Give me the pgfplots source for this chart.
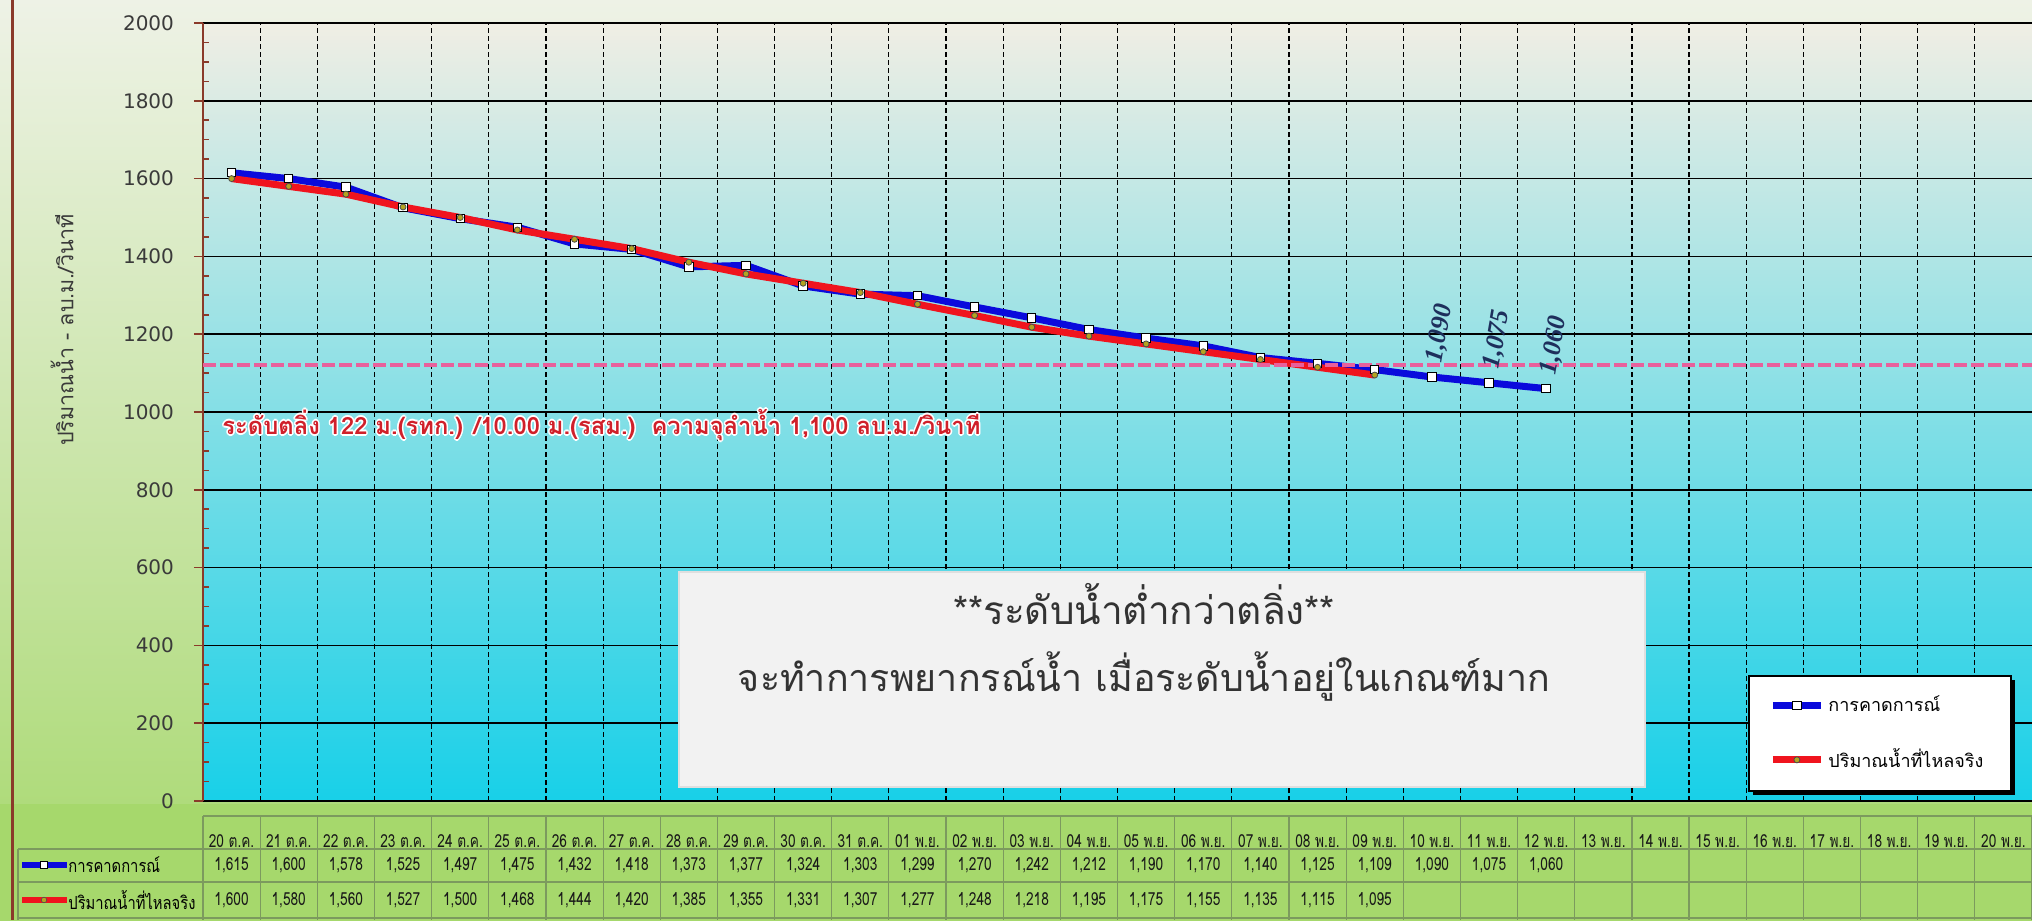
\documentclass[border=0pt]{standalone}
\usepackage{pgfplots}
\pgfplotsset{compat=1.18}
\usepackage{pgfplotstable}
\usepackage{graphicx}
\usepackage{fontspec}
\usetikzlibrary{shadows}
\setmainfont{DejaVu Sans}
\newfontfamily\thai[Script=Thai]{Loma}
\newfontfamily\tabthai[Script=Thai,FakeStretch=0.76]{Loma}
\newfontfamily\lblthai[Script=Thai,FakeStretch=0.82]{Loma}
\newfontfamily\lblserif{Liberation Serif}

\definecolor{fcblue}{HTML}{0A0ADC}
\definecolor{acred}{HTML}{F0141E}
\definecolor{acmark}{HTML}{B4A420}
\definecolor{pinkline}{HTML}{E8609C}
\definecolor{annred}{HTML}{D0202A}
\definecolor{lblnavy}{HTML}{1E2F5C}
\definecolor{tabline}{HTML}{7C9A5E}
\definecolor{outtop}{HTML}{EEF2E6}
\definecolor{outmid}{HTML}{CDE6B0}
\definecolor{outbot}{HTML}{A6D86C}
\definecolor{plottop}{HTML}{F0EEE4}
\definecolor{plotmid}{HTML}{C4ECEA}
\definecolor{plotbot}{HTML}{18D0E8}
\definecolor{boxgray}{HTML}{F2F2F2}
\definecolor{axbrown}{HTML}{8A3A2A}
\definecolor{ticktext}{HTML}{3A3A3A}

\pgfplotstableread{
x y
0 1615
1 1600
2 1578
3 1525
4 1497
5 1475
6 1432
7 1418
8 1373
9 1377
10 1324
11 1303
12 1299
13 1270
14 1242
15 1212
16 1190
17 1170
18 1140
19 1125
20 1109
21 1090
22 1075
23 1060
}\forecast

\pgfplotstableread{
x y
0 1600
1 1580
2 1560
3 1527
4 1500
5 1468
6 1444
7 1420
8 1385
9 1355
10 1331
11 1307
12 1277
13 1248
14 1218
15 1195
16 1175
17 1155
18 1135
19 1115
20 1095
}\actual

\newsavebox\annW
\newsavebox\annR
\newcommand\anntext{ระดับตลิ่ง 122 ม.(รทก.) /10.00 ม.(รสม.)\ \ ความจุลำน้ำ 1,100 ลบ.ม./วินาที}
\newcommand\tabfont{\tabthai\fontsize{9}{10}\selectfont}

\begin{document}
\sbox\annW{\resizebox{379pt}{!}{\thai\bfseries\color{white}\anntext}}%
\sbox\annR{\resizebox{379pt}{!}{\thai\bfseries\color{annred}\anntext}}%
\begin{tikzpicture}
\shade[top color=outtop, middle color=outmid, bottom color=outbot] (0,0) rectangle (1016pt,460pt);
\fill[outbot] (0,0) rectangle (1016pt,58pt);
\draw[axbrown, line width=1.5pt] (6pt,460pt) -- (6pt,0pt);

\begin{axis}[
  scale only axis, width=914.5pt, height=389pt,
  at={(101.5pt,59.5pt)}, anchor=south west,
  xmin=-0.5, xmax=31.5, ymin=0, ymax=2000,
  clip=false,
  axis background/.style={shade, top color=plottop, middle color=plotmid, bottom color=plotbot},
  axis x line*=bottom, axis y line*=left,
  x axis line style={black, line width=0.8pt},
  y axis line style={axbrown, line width=1pt},
  xtick={0.5,1.5,...,30.5}, xticklabels={}, xmajorgrids,
  x grid style={black, line width=0.6pt, dash pattern=on 2.5pt off 1.5pt},
  x tick style={draw=none},
  extra x ticks={0,1,...,31},
  extra x tick labels={20 ต.ค.,21 ต.ค.,22 ต.ค.,23 ต.ค.,24 ต.ค.,25 ต.ค.,26 ต.ค.,27 ต.ค.,28 ต.ค.,29 ต.ค.,30 ต.ค.,31 ต.ค.,01 พ.ย.,02 พ.ย.,03 พ.ย.,04 พ.ย.,05 พ.ย.,06 พ.ย.,07 พ.ย.,08 พ.ย.,09 พ.ย.,10 พ.ย.,11 พ.ย.,12 พ.ย.,13 พ.ย.,14 พ.ย.,15 พ.ย.,16 พ.ย.,17 พ.ย.,18 พ.ย.,19 พ.ย.,20 พ.ย.},
  extra x tick style={grid=none, xticklabel style={anchor=center, yshift=-15.5pt, font=\tabfont, text=black!90}},
  ytick={0,200,...,2000}, ymajorgrids,
  y grid style={black, line width=0.8pt},
  minor y tick num=3,
  tick align=outside, major tick length=4.5pt, minor tick length=3pt,
  y tick style={axbrown, line width=0.8pt},
  minor tick style={xshift=3pt},
  yticklabel style={font=\fontsize{10}{12}\selectfont, text=ticktext, /pgf/number format/1000 sep={}, xshift=-6.5pt},
  /pgf/number format/assume math mode=true,
  legend style={at={(0.8562,0.0868)}, anchor=west, draw=none, fill=none, inner sep=0pt,
    row sep=13pt, font=\thai\fontsize{9}{10}\selectfont, cells={anchor=west},
    /tikz/every even column/.append style={column sep=0pt}},
  legend image code/.code={\draw[mark repeat=2,mark phase=2,#1] plot coordinates {(0pt,0pt) (12pt,0pt) (24pt,0pt)};},
]
\addplot[fcblue, line width=3.5pt, mark=square*, mark size=2.1pt,
  mark options={fill=white, draw=black, line width=0.5pt, solid}] table[x=x,y=y]{\forecast};
\addlegendentry{การคาดการณ์}
\addplot[acred, line width=3.5pt, mark=*, mark size=1.5pt,
  mark options={fill=acmark, draw=black!70, line width=0.4pt, solid}] table[x=x,y=y]{\actual};
\addlegendentry{ปริมาณน้ำที่ไหลจริง}
\addplot[forget plot, pinkline, line width=2pt, dash pattern=on 6.5pt off 2pt] coordinates {(-0.5,1120) (31.5,1120)};
% data labels
\addplot[forget plot, draw=none, mark=none, nodes near coords, point meta=y,
  every node near coord/.style={font=\lblserif\bfseries\itshape\fontsize{13}{13}\selectfont, text=lblnavy, yshift=7pt, xshift=1.5pt, rotate=80, anchor=west, inner sep=0pt}]
  coordinates {(21,1090) (22,1075) (23,1060)};
% table rows
\addplot[forget plot, draw=none, mark=none, nodes near coords, point meta=explicit,
  every node near coord/.style={font=\tabfont, text=black!90, anchor=center}]
  table[x=x, y expr=-164.5, meta=y]{\forecast};
\addplot[forget plot, draw=none, mark=none, nodes near coords, point meta=explicit,
  every node near coord/.style={font=\tabfont, text=black!90, anchor=center}]
  table[x=x, y expr=-254.5, meta=y]{\actual};
% legend box
\fill[black] ([xshift=2pt,yshift=-2pt]rel axis cs:0.8453,0.01285) rectangle ([xshift=2pt,yshift=-2pt]rel axis cs:0.9885,0.1607);
\draw[black, line width=0.8pt, fill=white] (rel axis cs:0.8453,0.01285) rectangle (rel axis cs:0.9885,0.1607);
\end{axis}

% y label
\node[rotate=90, text=ticktext] at (31pt,295pt) {\resizebox{116pt}{!}{\thai ปริมาณน้ำ - ลบ.ม./วินาที}};

% centre box
\fill[boxgray, draw=gray!25, line width=0.6pt] (339.5pt,66.5pt) rectangle (822.5pt,174pt);
\node[text=black!80] at (572pt,158pt) {\resizebox{191pt}{!}{\thai **ระดับน้ำต่ำกว่าตลิ่ง**}};
\node[text=black!80] at (572pt,121.7pt) {\resizebox{406pt}{!}{\thai จะทำการพยากรณ์น้ำ เมื่อระดับน้ำอยู่ในเกณฑ์มาก}};

% red annotation with white halo
\foreach \dx/\dy in {-0.8/0,0.8/0,0/0.8,0/-0.8,-0.6/-0.6,0.6/0.6,-0.6/0.6,0.6/-0.6}
  \node[anchor=west, inner sep=0pt, xshift=\dx pt, yshift=\dy pt] at (111pt,247.5pt) {\usebox\annW};
\node[anchor=west, inner sep=0pt] at (111pt,247.5pt) {\usebox\annR};

% table grid
\foreach \k in {0,...,32}
  \draw[tabline, line width=0.6pt] ({101.5pt+\k*28.578pt},52pt) -- ({101.5pt+\k*28.578pt},0pt);
\draw[tabline, line width=0.6pt] (101.5pt,52pt) -- (1016pt,52pt);
\draw[tabline, line width=0.6pt] (9pt,35.5pt) -- (1016pt,35.5pt);
\draw[tabline, line width=0.6pt] (9pt,19pt) -- (1016pt,19pt);
\draw[tabline, line width=0.6pt] (9pt,1pt) -- (1016pt,1pt);
\draw[tabline, line width=0.6pt] (9pt,35.5pt) -- (9pt,0pt);

% table row headers
\draw[fcblue, line width=2.8pt] (11pt,27.5pt) -- (33.5pt,27.5pt);
\node[draw=black, fill=white, inner sep=0pt, minimum size=3.4pt, line width=0.3pt] at (22pt,27.5pt) {};
\node[anchor=west, inner sep=0pt] at (34pt,27.5pt) {\lblthai\fontsize{9}{10}\selectfont การคาดการณ์};
\draw[acred, line width=2.8pt] (11pt,10pt) -- (33.5pt,10pt);
\node[circle, draw=black!70, fill=acmark, inner sep=0pt, minimum size=2.8pt, line width=0.3pt] at (22pt,10pt) {};
\node[anchor=west, inner sep=0pt] at (34pt,10pt) {\lblthai\fontsize{9}{10}\selectfont ปริมาณน้ำที่ไหลจริง};

\pgfresetboundingbox
\useasboundingbox (0,0) rectangle (1016pt,460pt);
\end{tikzpicture}
\end{document}
